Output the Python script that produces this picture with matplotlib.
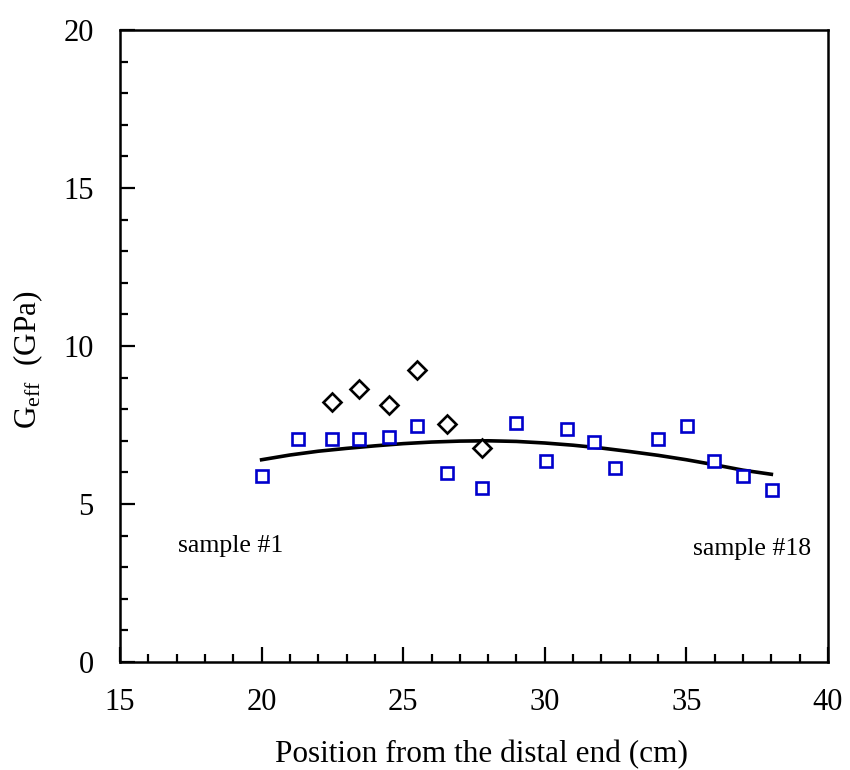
import matplotlib
matplotlib.use("Agg")
import matplotlib.pyplot as plt
from matplotlib.ticker import MultipleLocator

plt.rcParams['font.family'] = ['Liberation Serif', 'DejaVu Serif']
plt.rcParams['mathtext.fontset'] = 'custom'
plt.rcParams['mathtext.rm'] = 'Liberation Serif'
plt.rcParams['mathtext.it'] = 'Liberation Serif:italic'

# Data
sq_x = [20.0, 21.3, 22.5, 23.45, 24.5, 25.5, 26.55, 27.77, 29.0, 30.04, 30.78, 31.74, 32.48, 34.0, 35.03, 35.96, 37.0, 38.03]
sq_y = [5.87, 7.05, 7.05, 7.05, 7.13, 7.47, 5.97, 5.52, 7.57, 6.36, 7.38, 6.96, 6.14, 7.05, 7.46, 6.37, 5.87, 5.44]

dm_x = [22.5, 23.45, 24.5, 25.5, 26.55, 27.77]
dm_y = [8.22, 8.65, 8.13, 9.24, 7.53, 6.78]

fit_x = [20, 21, 22, 23, 24, 25, 26, 27, 28, 29, 30, 31, 32, 33, 34, 35, 36, 37, 38]
fit_y = [6.40, 6.55, 6.67, 6.76, 6.84, 6.91, 6.96, 6.99, 7.00, 6.98, 6.93, 6.86, 6.77, 6.66, 6.54, 6.40, 6.24, 6.07, 5.94]

x_ticks = [15, 20, 25, 30, 35, 40]
y_ticks = [0, 5, 10, 15, 20]

fig = plt.figure(figsize=(8.5, 7.7), dpi=100)
ax = fig.add_axes([0.1412, 0.1403, 0.8329, 0.8207])

ax.plot(fit_x, fit_y, color='black', lw=2.6, zorder=2)
ax.plot(sq_x, sq_y, linestyle='none', marker='s', markersize=8.5,
        markerfacecolor='white', markeredgecolor='#0000cc', markeredgewidth=1.9, zorder=3)
ax.plot(dm_x, dm_y, linestyle='none', marker='D', markersize=9,
        markerfacecolor='white', markeredgecolor='black', markeredgewidth=1.9, zorder=3)

ax.set_xlim(15, 40)
ax.set_ylim(0, 20)
ax.set_xticks(x_ticks)
ax.set_yticks(y_ticks)
ax.xaxis.set_minor_locator(MultipleLocator(1))
ax.yaxis.set_minor_locator(MultipleLocator(1))
ax.tick_params(which='both', direction='in', top=False, right=False, width=1.6, labelsize=22)
ax.tick_params(axis='y', which='major', pad=19)
ax.tick_params(axis='x', which='major', pad=19)
ax.tick_params(which='major', length=11)
ax.tick_params(which='minor', length=5.5)
for s in ax.spines.values():
    s.set_linewidth(1.8)

ax.set_xlabel('Position from the distal end (cm)', fontsize=22.5)
ax.set_ylabel(r'G$_{\mathrm{eff}}$  (GPa)', fontsize=22.5)
ax.xaxis.set_label_coords(0.511, -0.124)
ax.yaxis.set_label_coords(-0.106, 0.479)

ax.text(17.05, 3.48, 'sample #1', fontsize=18.5, ha='left', va='baseline')
ax.text(35.23, 3.39, 'sample #18', fontsize=18.5, ha='left', va='baseline')

fig.savefig('out.png', dpi=100)
